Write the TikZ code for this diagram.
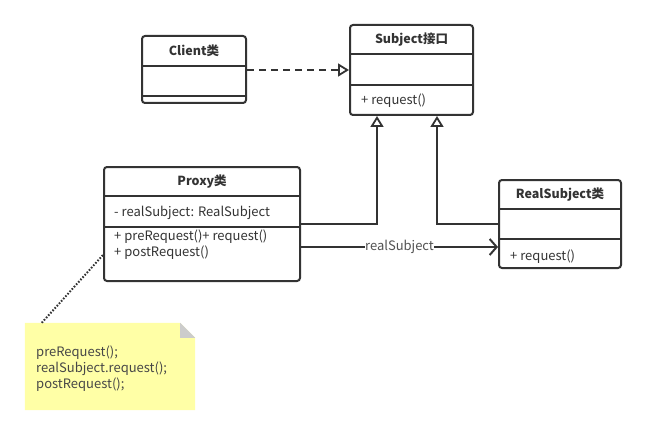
\documentclass[tikz,border=0pt]{standalone}
\usepackage{fontspec}
\setmainfont{Noto Sans CJK SC}
\usetikzlibrary{arrows.meta}
\definecolor{ink}{HTML}{333333}
\definecolor{notey}{HTML}{FFFFA6}
\definecolor{foldg}{HTML}{CCCCCC}
\tikzset{
  umlbox/.style={draw=ink, line width=2pt, rounded corners=3pt, fill=white, inner sep=0pt},
  sep/.style={draw=ink, line width=2pt},
  hdr/.style={font=\fontsize{12.5}{14}\selectfont\bfseries, text=ink, inner sep=0pt},
  attr/.style={font=\fontsize{13}{16}\selectfont, text=ink, inner sep=0pt, anchor=west, align=left},
  conn/.style={draw=ink, line width=2pt},
  inh/.style={conn, -{Triangle[open, length=11pt, width=13pt, line width=1.8pt]}},
  dep/.style={conn, dash pattern=on 7pt off 5pt, -{Triangle[open, length=11pt, width=13pt, line width=1.8pt]}},
  assoc/.style={conn, -{Straight Barb[length=7pt, width=16pt, line width=2pt]}},
}
\begin{document}
\begin{tikzpicture}[x=1pt, y=-1pt]
\useasboundingbox (0,0) rectangle (646,436);
% Client
\node[umlbox, minimum width=104pt, minimum height=67pt] (client) at (194,69.5) {};
\node[hdr] (clientT) at (194,51) {Client类};
\draw[sep] (client.west |- 0,66) -- (client.east |- 0,66);
\draw[sep] (client.west |- 0,96) -- (client.east |- 0,96);
% Subject
\node[umlbox, minimum width=123pt, minimum height=90pt] (subject) at (411.5,70) {};
\node[hdr] (subjectT) at (411.5,40) {Subject接口};
\draw[sep] (subject.west |- 0,54) -- (subject.east |- 0,54);
\draw[sep] (subject.west |- 0,85) -- (subject.east |- 0,85);
\node[attr] (subjectM) at (361,101) {+ request()};
% Proxy
\node[umlbox, minimum width=196pt, minimum height=114pt] (proxy) at (202,224) {};
\node[hdr] (proxyT) at (202,182) {Proxy类};
\draw[sep] (proxy.west |- 0,196) -- (proxy.east |- 0,196);
\draw[sep] (proxy.west |- 0,227) -- (proxy.east |- 0,227);
\node[attr] (proxyA) at (114,213) {- realSubject: RealSubject};
\node[attr] (proxyM1) at (114,237) {+ preRequest()+ request()};
\node[attr] (proxyM2) at (114,253) {+ postRequest()};
% RealSubject
\node[umlbox, minimum width=122pt, minimum height=88pt] (real) at (560,224) {};
\node[hdr] (realT) at (560,195) {RealSubject类};
\draw[sep] (real.west |- 0,209) -- (real.east |- 0,209);
\draw[sep] (real.west |- 0,239) -- (real.east |- 0,239);
\node[attr] (realM) at (510,257) {+ request()};
% connectors
\draw[dep] ([yshift=-0.5pt]client.east) -- ([yshift=-0.5pt]client.east -| subject.west);
\draw[inh] (proxy.east) -| ([xshift=-34.5pt]subject.south);
\draw[inh] (real.west) -| ([xshift=25.5pt]subject.south);
\draw[assoc] ([yshift=-23pt]proxy.east) -- node[fill=white, inner sep=0.3pt, font=\fontsize{13}{15}\selectfont, text=ink!85] (lbl) {realSubject} ([yshift=-23pt]real.west);
% note
\node[minimum width=170pt, minimum height=87pt, inner sep=0pt] (note) at (110,366.5) {};
\fill[notey] (note.south west) -- (note.north west) -- ([xshift=-15pt]note.north east) -- ([yshift=-15pt]note.north east) -- (note.south east) -- cycle;
\fill[foldg] ([xshift=-15pt]note.north east) -- ([xshift=-15pt,yshift=-15pt]note.north east) -- ([yshift=-15pt]note.north east) -- cycle;
\node[attr, text=ink!90] (noteT) at (36,369) {preRequest();\\realSubject.request();\\postRequest();};
\draw[ink, line width=2pt, dash pattern=on 1.6pt off 1.6pt] ([xshift=17pt]note.north west) -- ([yshift=-31pt]proxy.west);
\end{tikzpicture}
\end{document}
